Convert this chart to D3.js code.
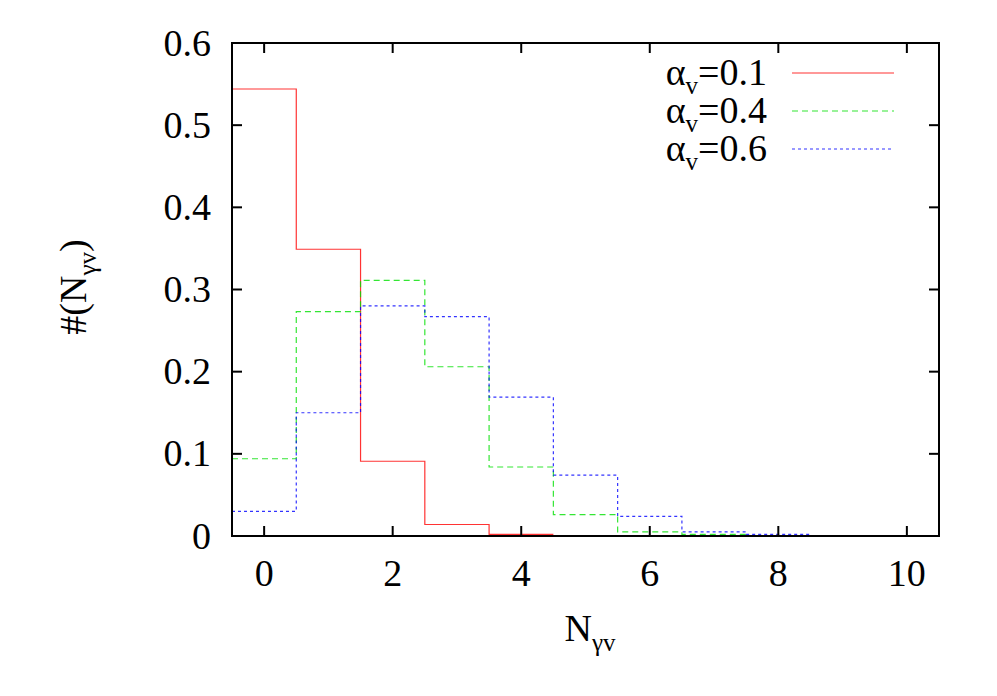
<!DOCTYPE html>
<html><head><meta charset="utf-8">
<script src="https://cdn.jsdelivr.net/npm/d3@7"></script>
<style>body{margin:0;background:#fff}svg{display:block}text{font-family:"Liberation Serif","Times New Roman",serif;fill:#000}</style>
</head><body><svg id="c" width="997" height="696"></svg>
<script>
const bins = [0,1,2,3,4,5,6,7,8,9,10];
const red   = [0.544,0.349,0.091,0.014,0.002,0,0,0,0,0,0];
const green = [0.094,0.273,0.311,0.206,0.084,0.026,0.005,0.002,0.0005,0,0];
const blue  = [0.030,0.150,0.280,0.267,0.169,0.074,0.024,0.005,0.002,0,0];
const xTicks = [0,2,4,6,8,10];
const yTicks = [0,0.1,0.2,0.3,0.4,0.5,0.6];
const series = [
  {label:"0.1", values:red, color:"#ff0000", dash:null},
  {label:"0.4", values:green, color:"#00e000", dash:"6,4"},
  {label:"0.6", values:blue, color:"#0000ff", dash:"3,3"}
];
const L=232,R=939,T=43,B=536;
const x=d3.scaleLinear().domain([-0.5,10.5]).range([L,R]);
const y=d3.scaleLinear().domain([0,0.6]).range([B,T]);
const svg=d3.select("#c");
const fs=38, ss=25;
const line=d3.line().x(d=>x(d[0])).y(d=>y(d[1]));
series.forEach(s=>{
  const pts=[];
  s.values.forEach((v,i)=>{pts.push([bins[i]-0.5,v]);pts.push([bins[i]+0.5,v]);});
  let last=s.values.length-1; while(last>0&&s.values[last]===0) last--;
  const p=pts.slice(0,(last+1)*2);
  svg.append("path").attr("d",line(p)).attr("fill","none").attr("stroke",s.color)
    .attr("stroke-width",1.2).attr("stroke-dasharray",s.dash).attr("opacity",0.8);
});
svg.append("rect").attr("x",L).attr("y",T).attr("width",R-L).attr("height",B-T)
  .attr("fill","none").attr("stroke","#000").attr("stroke-width",2);
const tl=10;
xTicks.forEach(t=>{
  svg.append("line").attr("x1",x(t)).attr("x2",x(t)).attr("y1",B).attr("y2",B-tl).attr("stroke","#000").attr("stroke-width",2);
  svg.append("line").attr("x1",x(t)).attr("x2",x(t)).attr("y1",T).attr("y2",T+tl).attr("stroke","#000").attr("stroke-width",2);
  svg.append("text").attr("x",x(t)).attr("y",586).attr("text-anchor","middle").attr("font-size",fs).text(t);
});
yTicks.forEach(t=>{
  svg.append("line").attr("x1",L).attr("x2",L+tl).attr("y1",y(t)).attr("y2",y(t)).attr("stroke","#000").attr("stroke-width",2);
  svg.append("line").attr("x1",R).attr("x2",R-tl).attr("y1",y(t)).attr("y2",y(t)).attr("stroke","#000").attr("stroke-width",2);
  svg.append("text").attr("x",211).attr("y",y(t)+12.5).attr("text-anchor","end").attr("font-size",fs).text(t===0?"0":d3.format(".1f")(t));
});
series.forEach((s,i)=>{
  const ly=73+i*38;
  const t=svg.append("text").attr("x",767).attr("y",ly+12).attr("text-anchor","end").attr("font-size",fs);
  t.append("tspan").text("α");
  t.append("tspan").attr("font-size",ss).attr("dy",9).text("v");
  t.append("tspan").attr("dy",-9).text("="+s.label);
  svg.append("line").attr("x1",792).attr("x2",894).attr("y1",ly).attr("y2",ly)
    .attr("stroke",s.color).attr("stroke-width",1.2).attr("stroke-dasharray",s.dash).attr("opacity",0.8);
});
const xt=svg.append("text").attr("x",590).attr("y",641).attr("text-anchor","middle").attr("font-size",fs);
xt.append("tspan").text("N");
xt.append("tspan").attr("font-size",ss).attr("dy",10).text("γv");
const yt=svg.append("text").attr("transform","translate(86,287) rotate(-90)").attr("text-anchor","middle").attr("font-size",fs);
yt.append("tspan").text("#(N");
yt.append("tspan").attr("font-size",ss).attr("dy",10).text("γv");
yt.append("tspan").attr("dy",-10).text(")");
</script></body></html>
